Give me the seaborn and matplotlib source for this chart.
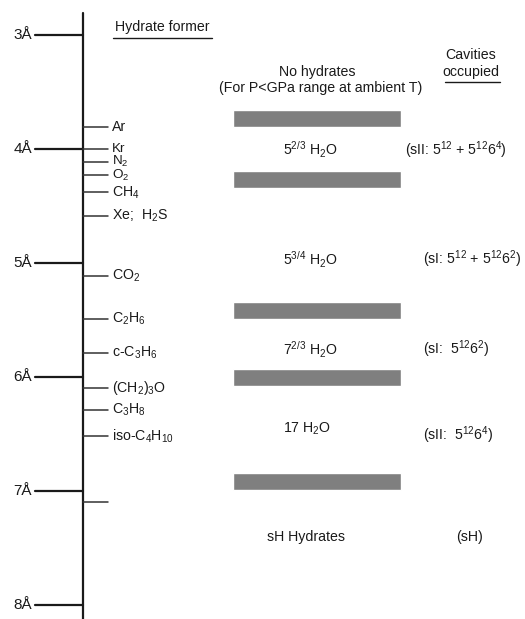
import matplotlib
matplotlib.use("Agg")
import matplotlib.pyplot as plt
import seaborn as sns

# guest molecule diameters (Angstrom)
angstrom_ticks = [3, 4, 5, 6, 7, 8]
formers = ["Ar", "Kr", "N$_2$", "O$_2$", "CH$_4$", "Xe;  H$_2$S", "CO$_2$",
           "C$_2$H$_6$", "c-C$_3$H$_6$", "(CH$_2$)$_3$O", "C$_3$H$_8$",
           "iso-C$_4$H$_{10}$", ""]
former_sizes = [3.81, 4.0, 4.11, 4.23, 4.38, 4.59, 5.11, 5.49, 5.79, 6.10,
                6.29, 6.52, 7.10]

# boundaries between hydrate structures
boundaries = [3.73, 4.27, 5.42, 6.00, 6.92]

hydrate_labels = ["5$^{2/3}$ H$_2$O", "5$^{3/4}$ H$_2$O", "7$^{2/3}$ H$_2$O",
                  "17 H$_2$O", "sH Hydrates"]
hydrate_y = [4.01, 4.97, 5.76, 6.45, 7.40]
cavity_labels = ["(sII: 5$^{12}$ + 5$^{12}$6$^{4}$)", "(sI: 5$^{12}$ + 5$^{12}$6$^{2}$)",
                 "(sI:  5$^{12}$6$^{2}$)", "(sII:  5$^{12}$6$^{4}$)", "(sH)"]
cavity_y = [4.01, 4.97, 5.76, 6.51, 7.40]

sns.set_style("white")
plt.rcParams["font.family"] = ["Liberation Sans", "DejaVu Sans"]
plt.rcParams["mathtext.default"] = "regular"

fig = plt.figure(figsize=(5.25, 6.19), dpi=100)
ax = fig.add_axes([0, 0, 1, 1])
px = 114.0  # pixels per Angstrom
ax.set_xlim(0, 525)
ax.set_ylim(3 + (619 - 35) / px, 3 - 35 / px)
ax.axis("off")

ink = "#1a1a1a"
fs = 10.2

# main vertical scale
ax.plot([83, 83], [3 - 22 / px, 3 + 584 / px], color=ink, lw=1.6)
for a in angstrom_ticks:
    ax.plot([35, 83], [a, a], color=ink, lw=1.6)
    ax.text(32, a, f"{a}Å", ha="right", va="center", fontsize=11, color=ink)

# hydrate formers (the crowded Kr/N2/O2 group slightly smaller)
for name, s in zip(formers, former_sizes):
    ax.plot([83, 108], [s, s], color="#333333", lw=1.1)
    if name:
        size = 9.7 if 3.9 < s < 4.3 else fs
        ax.text(112, s, name, ha="left", va="center", fontsize=size, color=ink)

# gray boundary bars
ax.barh(boundaries, 168, left=233, height=17 / px, color="#7f7f7f")

hyd_x = [283, 283, 283, 283, 267]
for lab, x, y in zip(hydrate_labels, hyd_x, hydrate_y):
    ax.text(x, y, lab, ha="left", va="center", fontsize=fs, color=ink)
cav_x = [405, 423, 423, 423, 456]
for lab, x, y in zip(cavity_labels, cav_x, cavity_y):
    ax.text(x, y, lab, ha="left", va="center", fontsize=fs, color=ink)

# headers
ax.text(162.5, 3 - 8 / px, "Hydrate former", ha="center", va="center",
        fontsize=fs, color=ink)
ax.plot([113, 212], [3 + 3 / px, 3 + 3 / px], color=ink, lw=1.0)
ax.text(317, 3 + 37 / px, "No hydrates", ha="center", va="center",
        fontsize=fs, color=ink)
ax.text(321, 3 + 53 / px, "(For P<GPa range at ambient T)", ha="center",
        va="center", fontsize=fs, color=ink)
ax.text(471, 3 + 20 / px, "Cavities", ha="center", va="center",
        fontsize=fs, color=ink)
ax.text(471, 3 + 37 / px, "occupied", ha="center", va="center",
        fontsize=fs, color=ink)
ax.plot([445, 500], [3 + 47 / px, 3 + 47 / px], color=ink, lw=1.0)

fig.savefig("out.png", dpi=100)
